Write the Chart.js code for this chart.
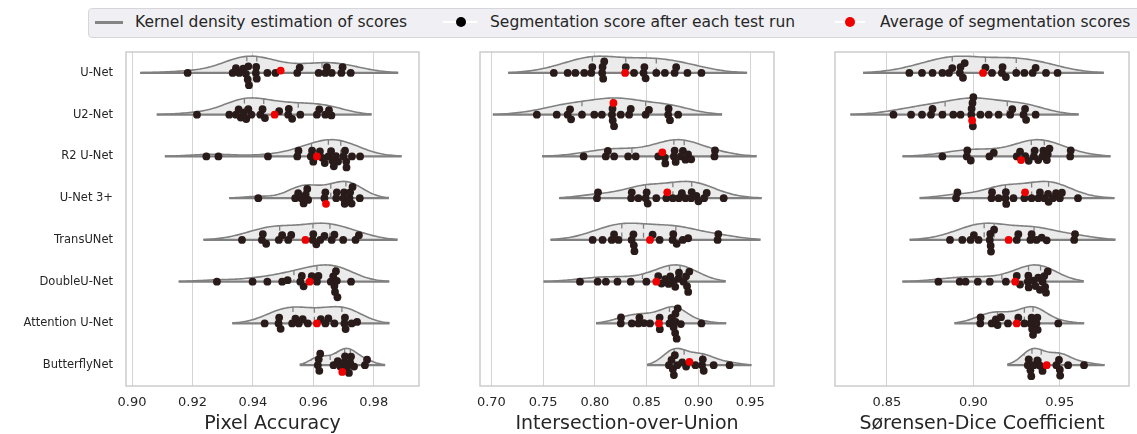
<!DOCTYPE html>
<html><head><meta charset="utf-8">
<script src="https://cdn.jsdelivr.net/npm/chart.js@4.4.0/dist/chart.umd.min.js"></script>
<style>
body{margin:0;width:1137px;height:434px;overflow:hidden;background:#fff;position:relative;font-family:'DejaVu Sans',sans-serif}
canvas{position:absolute;top:0}
.lg{position:absolute;font-size:15.5px;color:#262626;line-height:20px;top:12px;white-space:nowrap}
.bx{position:absolute}
</style></head><body>
<canvas id="c0" width="423" height="434" style="left:0px"></canvas>
<canvas id="c1" width="338" height="434" style="left:440px"></canvas>
<canvas id="c2" width="338" height="434" style="left:795px"></canvas>
<div class="bx" style="left:88px;top:8px;width:1080px;height:28px;background:#f0f0f4;border:1px solid #d6d6da;border-radius:4px"></div>
<div class="bx" style="left:95px;top:21px;width:28px;height:3px;background:#858585"></div>
<div class="lg" style="left:135px">Kernel density estimation of scores</div>
<div class="bx" style="left:443px;top:21px;width:34px;height:2px;background:#fff"></div>
<div class="bx" style="left:456px;top:17px;width:10px;height:10px;border-radius:50%;background:#000"></div>
<div class="lg" style="left:490px">Segmentation score after each test run</div>
<div class="bx" style="left:835px;top:21px;width:30px;height:2px;background:#fff"></div>
<div class="bx" style="left:845px;top:17px;width:10px;height:10px;border-radius:50%;background:#f00000"></div>
<div class="lg" style="left:880px">Average of segmentation scores</div>
<script>
const categories = ['U-Net','U2-Net','R2 U-Net','U-Net 3+','TransUNet','DoubleU-Net','Attention U-Net','ButterflyNet'];

const paScores = [
 [0.9184,0.9333,0.9344,0.9355,0.9368,0.9377,0.9383,0.9385,0.9387,0.9410,0.9411,0.9413,0.9448,0.9475,0.9547,0.9555,0.9618,0.9640,0.9645,0.9661,0.9693,0.9697,0.9724],
 [0.9215,0.9322,0.9344,0.9353,0.9360,0.9370,0.9378,0.9385,0.9395,0.9425,0.9432,0.9440,0.9487,0.9517,0.9519,0.9530,0.9557,0.9612,0.9620,0.9640,0.9652,0.9660],
 [0.9246,0.9286,0.9450,0.9547,0.9551,0.9592,0.9596,0.9600,0.9622,0.9630,0.9638,0.9650,0.9659,0.9663,0.9668,0.9675,0.9682,0.9700,0.9705,0.9709,0.9710,0.9728,0.9755],
 [0.9418,0.9540,0.9550,0.9560,0.9568,0.9575,0.9580,0.9583,0.9637,0.9640,0.9676,0.9678,0.9700,0.9702,0.9704,0.9720,0.9722,0.9727,0.9730,0.9754],
 [0.9364,0.9430,0.9433,0.9444,0.9486,0.9497,0.9517,0.9527,0.9598,0.9600,0.9610,0.9623,0.9637,0.9661,0.9670,0.9699,0.9740,0.9751],
 [0.9281,0.9399,0.9448,0.9497,0.9515,0.9557,0.9562,0.9568,0.9595,0.9612,0.9617,0.9658,0.9666,0.9670,0.9672,0.9675,0.9678,0.9680,0.9725],
 [0.9439,0.9485,0.9487,0.9492,0.9530,0.9541,0.9552,0.9565,0.9582,0.9625,0.9640,0.9650,0.9670,0.9703,0.9705,0.9707,0.9727,0.9745],
 [0.9615,0.9618,0.9620,0.9623,0.9667,0.9681,0.9690,0.9703,0.9705,0.9712,0.9718,0.9722,0.9725,0.9735,0.9771,0.9778]
];
const paMeans = [0.9492,0.9472,0.9612,0.9642,0.9574,0.9588,0.9612,0.9696];

const iouScores = [
 [0.7603,0.7737,0.7811,0.7897,0.7965,0.7975,0.8070,0.8074,0.8080,0.8090,0.8298,0.8378,0.8470,0.8478,0.8490,0.8593,0.8676,0.8770,0.8785,0.8894,0.9029],
 [0.7439,0.7631,0.7737,0.7760,0.7770,0.7875,0.7994,0.8067,0.8165,0.8170,0.8172,0.8185,0.8250,0.8330,0.8346,0.8490,0.8522,0.8708,0.8712,0.8725,0.8804],
 [0.7891,0.8105,0.8125,0.8186,0.8321,0.8394,0.8612,0.8675,0.8680,0.8763,0.8770,0.8780,0.8830,0.8850,0.8875,0.8900,0.8930,0.9155,0.9160],
 [0.8020,0.8030,0.8350,0.8356,0.8420,0.8490,0.8500,0.8510,0.8593,0.8690,0.8753,0.8810,0.8840,0.8875,0.8930,0.8935,0.8980,0.9000,0.9055,0.9080,0.9244],
 [0.7978,0.8074,0.8163,0.8185,0.8228,0.8355,0.8372,0.8376,0.8382,0.8557,0.8625,0.8750,0.8757,0.8790,0.8849,0.8901,0.9185,0.9192],
 [0.7856,0.8026,0.8106,0.8218,0.8346,0.8497,0.8612,0.8644,0.8680,0.8712,0.8728,0.8760,0.8776,0.8808,0.8812,0.8856,0.8880,0.8890,0.8901,0.8912],
 [0.8250,0.8252,0.8356,0.8420,0.8430,0.8474,0.8532,0.8625,0.8627,0.8720,0.8740,0.8760,0.8775,0.8778,0.8780,0.8790,0.8800,0.8830,0.9029],
 [0.8715,0.8740,0.8753,0.8763,0.8772,0.8795,0.8843,0.8881,0.8971,0.9035,0.9042,0.9051,0.9147,0.9301]
];
const iouMeans = [0.8292,0.8179,0.8651,0.8699,0.8532,0.8593,0.8619,0.8913];

const diceScores = [
 [0.8630,0.8703,0.8764,0.8821,0.8859,0.8878,0.8922,0.8926,0.8940,0.8950,0.9070,0.9108,0.9165,0.9169,0.9188,0.9248,0.9295,0.9343,0.9360,0.9420,0.9487],
 [0.8538,0.8640,0.8703,0.8755,0.8764,0.8821,0.8884,0.8926,0.8988,0.8990,0.8995,0.8997,0.9000,0.9041,0.9089,0.9146,0.9213,0.9225,0.9290,0.9299,0.9305,0.9360],
 [0.8821,0.8962,0.8965,0.8985,0.9093,0.9118,0.9251,0.9270,0.9300,0.9320,0.9350,0.9355,0.9375,0.9400,0.9405,0.9425,0.9430,0.9440,0.9560,0.9563],
 [0.8900,0.8908,0.9105,0.9108,0.9146,0.9185,0.9188,0.9190,0.9232,0.9295,0.9337,0.9376,0.9385,0.9410,0.9432,0.9435,0.9460,0.9478,0.9500,0.9512,0.9605],
 [0.8865,0.8936,0.8984,0.9003,0.9030,0.9095,0.9098,0.9100,0.9102,0.9120,0.9251,0.9260,0.9330,0.9337,0.9365,0.9395,0.9424,0.9583,0.9588],
 [0.8798,0.8921,0.8955,0.9026,0.9095,0.9188,0.9251,0.9270,0.9315,0.9318,0.9320,0.9347,0.9360,0.9375,0.9385,0.9400,0.9410,0.9415,0.9420,0.9430],
 [0.9040,0.9042,0.9106,0.9130,0.9140,0.9160,0.9200,0.9260,0.9295,0.9330,0.9337,0.9340,0.9345,0.9365,0.9370,0.9372,0.9491],
 [0.9315,0.9320,0.9330,0.9335,0.9350,0.9370,0.9385,0.9400,0.9480,0.9495,0.9500,0.9502,0.9548,0.9640]
];
const diceMeans = [0.9056,0.8993,0.9276,0.9299,0.9204,0.9242,0.9251,0.9424];

const paTicks = [0.90,0.92,0.94,0.96,0.98];
const iouTicks = [0.70,0.75,0.80,0.85,0.90,0.95];
const diceTicks = [0.85,0.90,0.95];
const paRange = [0.898,0.995];
const iouRange = [0.689,0.973];
const diceRange = [0.820,0.990];

Chart.defaults.font.family = "'DejaVu Sans', sans-serif";
Chart.defaults.color = '#262626';

const PT_R = 3.9, SWARM_D = 5.6, HALF_W = 0.4;
const LINE_C = '#808080', FILL_C = '#ebebeb', DOT_C = '#2a1b1b', RED_C = '#f00000';

function kde(vals){
  const n = vals.length;
  const mean = vals.reduce((a,b)=>a+b,0)/n;
  const sd = Math.sqrt(vals.reduce((a,b)=>a+(b-mean)*(b-mean),0)/(n-1));
  const bw = sd*Math.pow(n,-0.2);
  const f = x => { let d=0; for(const v of vals){ const z=(x-v)/bw; d+=Math.exp(-0.5*z*z);} return d; };
  const lo = Math.min(...vals)-2*bw, hi = Math.max(...vals)+2*bw;
  const grid = [];
  for(let k=0;k<100;k++){ const x = lo+(hi-lo)*k/99; grid.push({x, d:f(x)}); }
  return {grid, f, lo, hi};
}
function percentile(s,p){ const idx=(s.length-1)*p; const a=Math.floor(idx), b=Math.ceil(idx); return s[a]+(s[b]-s[a])*(idx-a); }

function swarm(items, d){
  const order = items.slice().sort((a,b)=>a.px-b.px);
  const placed = [];
  for(const it of order){
    const nb = placed.filter(q=>Math.abs(q.px-it.px)<d);
    const lows=[], highs=[];
    for(const q of nb){ const dx=it.px-q.px; const dy=Math.sqrt(Math.max(d*d-dx*dx,0))*1.05; lows.push(q.off-dy); highs.push(q.off+dy); }
    const cands = [0, ...lows, ...highs].map((c,i)=>({c,i})).sort((a,b)=>(Math.abs(a.c)-Math.abs(b.c))||(a.i-b.i));
    let chosen = cands[0].c;
    for(const {c} of cands){
      if(nb.every(q=>(it.px-q.px)**2+(c-q.off)**2 >= d*d*0.999)){ chosen=c; break; }
    }
    it.off = chosen; placed.push(it);
  }
}

const frame = { id:'frame', afterDraw(chart){ const {ctx, chartArea:a} = chart; ctx.save(); ctx.strokeStyle='#cccccc'; ctx.lineWidth=1.5; ctx.strokeRect(a.left, a.top, a.right-a.left, a.bottom-a.top); ctx.restore(); } };

function buildPanel(id, scores, means, ticks, range, title, showY, padLeft){
  const datasets = [];
  datasets.push({data: means.map((m,i)=>({x:m,y:i})), showLine:false, pointRadius:PT_R, pointBackgroundColor:RED_C, pointBorderWidth:0, order:-1});
  datasets.push({data: scores.flatMap((row,i)=>row.map(v=>({x:v,y:i}))), showLine:false, pointRadius:PT_R, pointBackgroundColor:DOT_C, pointBorderWidth:0, order:0});
  scores.forEach((row,i)=>{
    const k = kde(row);
    const maxD = Math.max(...k.grid.map(g=>g.d));
    datasets.push({data: k.grid.map(g=>({x:g.x, y:i-HALF_W*g.d/maxD})), borderColor:LINE_C, borderWidth:1.6, backgroundColor:FILL_C, fill:{value:i}, pointRadius:0, tension:0, order:3});
    datasets.push({data:[{x:k.lo,y:i},{x:k.hi,y:i}], borderColor:LINE_C, borderWidth:2.2, pointRadius:0, fill:false, order:2});
    const s = row.slice().sort((a,b)=>a-b);
    [0.25,0.5,0.75].forEach(p=>{
      const q = percentile(s,p); const h = HALF_W*k.f(q)/maxD;
      datasets.push({data:[{x:q,y:i-h},{x:q,y:i}], borderColor:LINE_C, borderWidth:1.3, borderDash:[5,4], pointRadius:0, fill:false, order:2});
    });
  });
  const chart = new Chart(document.getElementById(id), {
    type:'line',
    data:{datasets},
    options:{
      animation:false, responsive:false, events:[],
      layout:{padding:{top:52,left:padLeft,right:2,bottom:0}},
      plugins:{legend:{display:false}, tooltip:{enabled:false}},
      scales:{
        x:{type:'linear', position:'bottom', min:range[0], max:range[1],
          afterBuildTicks:s=>{ s.ticks = ticks.map(v=>({value:v})); },
          afterFit:s=>{ s.height = 48; },
          grid:{color:'#d4d4d4', lineWidth:1, drawTicks:false},
          border:{display:false},
          ticks:{padding:9, maxRotation:0, minRotation:0, font:{size:13}, color:'#262626', callback:v=>Number(v).toFixed(2)},
          title:{display:true, text:title, font:{size:19, lineHeight:1}, color:'#262626', padding:{top:0,bottom:0}}
        },
        y:{type:'linear', min:-0.5, max:7.5, reverse:true, display:showY,
          afterBuildTicks:s=>{ s.ticks = categories.map((c,i)=>({value:i})); },
          afterFit:s=>{ s.width = showY ? 126 : 0; },
          grid:{display:false, drawTicks:false}, border:{display:false},
          ticks:{padding:13, font:{size:11.5}, color:'#262626', callback:v=>categories[v]}
        }
      }
    },
    plugins:[frame]
  });
  const xs = chart.scales.x, ys = chart.scales.y;
  const ppu = ys.getPixelForValue(1) - ys.getPixelForValue(0);
  const ptsData = [], meanData = [];
  scores.forEach((row,i)=>{
    const items = row.map(v=>({v, px:xs.getPixelForValue(v), red:false}));
    items.push({v:means[i], px:xs.getPixelForValue(means[i]), red:true});
    swarm(items, SWARM_D);
    items.forEach(it=>{ (it.red?meanData:ptsData).push({x:it.v, y:i+it.off/ppu}); });
  });
  chart.data.datasets[0].data = meanData;
  chart.data.datasets[1].data = ptsData;
  chart.update('none');
  return chart;
}

buildPanel('c0', paScores, paMeans, paTicks, paRange, 'Pixel Accuracy', true, 0);
buildPanel('c1', iouScores, iouMeans, iouTicks, iouRange, 'Intersection-over-Union', false, 40);
buildPanel('c2', diceScores, diceMeans, diceTicks, diceRange, 'Sørensen-Dice Coefficient', false, 40);
</script>
</body></html>
